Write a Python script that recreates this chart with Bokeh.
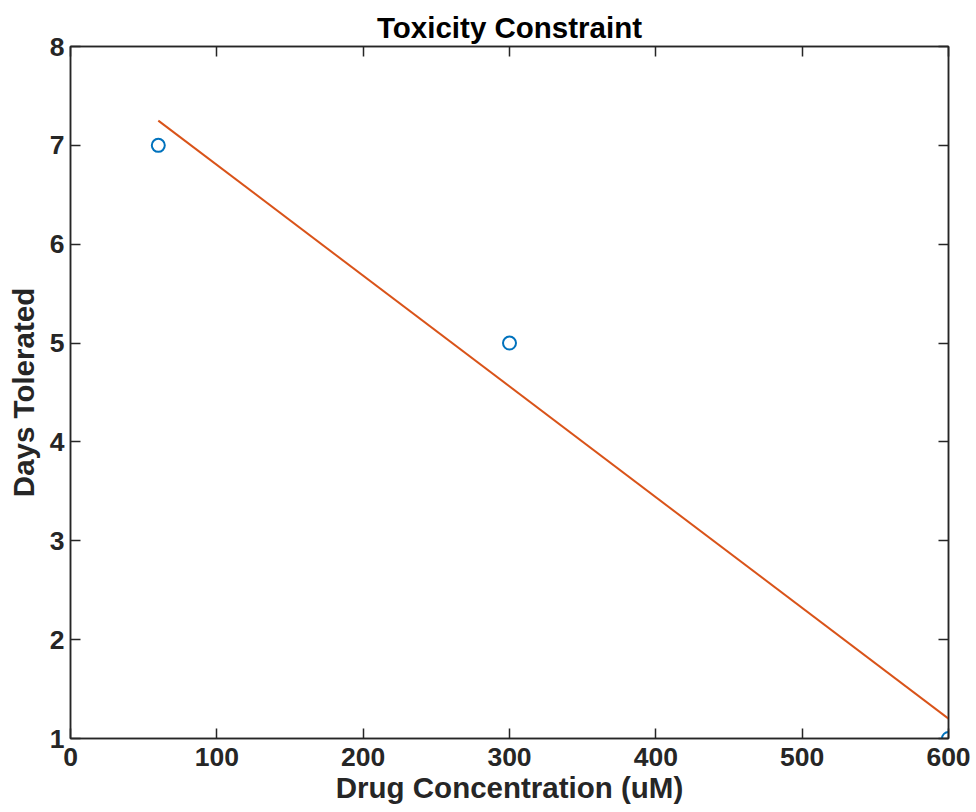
from bokeh.plotting import figure
from bokeh.models import LinearAxis, FixedTicker, Range1d
from bokeh.embed import file_html
from bokeh.resources import INLINE

# data
conc = [60, 300, 600]
days = [7, 5, 1]
fit_x = [60, 600]
fit_y = [7.25, 1.2]
x_ticks = [0, 100, 200, 300, 400, 500, 600]
y_ticks = [1, 2, 3, 4, 5, 6, 7, 8]

FONT = "Liberation Sans"
DARK = "#262626"

p = figure(frame_width=878, frame_height=692,
           x_range=Range1d(0, 600), y_range=Range1d(1, 8),
           output_backend="svg", toolbar_location=None,
           title="Toxicity Constraint",
           min_border_left=70, min_border_top=46, min_border_right=26, min_border_bottom=70)

p.background_fill_color = "white"
p.border_fill_color = "white"
p.outline_line_color = DARK
p.outline_line_width = 1.5
p.xgrid.visible = False
p.ygrid.visible = False

p.title.text_font = FONT
p.title.text_font_size = "29.5px"
p.title.text_font_style = "bold"
p.title.text_color = "black"
p.title.align = "center"
p.title.offset = 0
p.title.standoff = 6

def style(ax, ticks, label=None, show_labels=True, tick_standoff=4, label_standoff=4):
    ax.ticker = FixedTicker(ticks=ticks)
    ax.axis_line_color = DARK
    ax.axis_line_width = 1.5
    ax.major_tick_line_color = DARK
    ax.major_tick_line_width = 1.5
    ax.major_tick_in = 10
    ax.major_tick_out = 0
    ax.minor_tick_line_color = None
    ax.major_label_text_font = FONT
    ax.major_label_text_font_style = "bold"
    ax.major_label_text_color = DARK
    if show_labels:
        ax.major_label_text_font_size = "26.5px"
        ax.major_label_standoff = tick_standoff
    else:
        ax.major_label_text_font_size = "0px"
        ax.major_label_standoff = 0
        ax.major_label_overrides = {t: "" for t in ticks}
    if label:
        ax.axis_label = label
        ax.axis_label_text_font = FONT
        ax.axis_label_text_font_size = "29.5px"
        ax.axis_label_text_font_style = "bold"
        ax.axis_label_text_color = DARK
        ax.axis_label_standoff = label_standoff

style(p.xaxis[0], x_ticks, "Drug Concentration (uM)", tick_standoff=9, label_standoff=2)
style(p.yaxis[0], y_ticks, "Days Tolerated", tick_standoff=6, label_standoff=7)

top = LinearAxis()
style(top, x_ticks, show_labels=False)
p.add_layout(top, "above")
right = LinearAxis()
style(right, y_ticks, show_labels=False)
p.add_layout(right, "right")

p.line(fit_x, fit_y, line_color="#D95319", line_width=2)
p.scatter(conc, days, marker="circle", size=13, fill_color=None,
          line_color="#0072BD", line_width=2)

open("out.html", "w").write(file_html(p, INLINE))
